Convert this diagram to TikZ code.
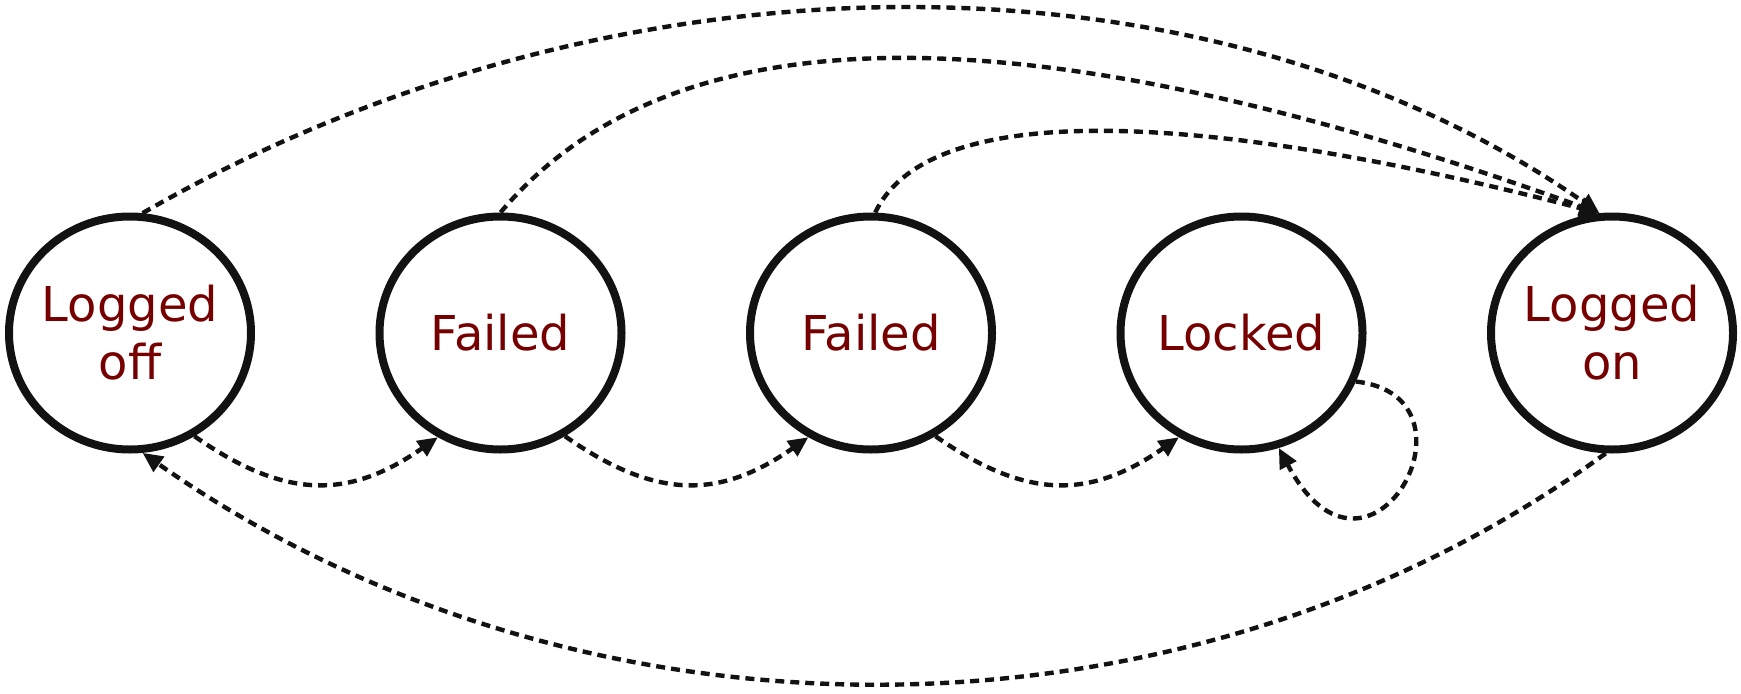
\documentclass[tikz,border=0pt]{standalone}
\usepackage{fontspec}
\setmainfont{DejaVu Sans}
\usepackage{xcolor}
\usetikzlibrary{shapes.geometric, arrows.meta, positioning}
\definecolor{statered}{RGB}{118,0,0}

\begin{document}
\begin{tikzpicture}[
  x=0.5pt, y=0.5pt,
  node distance=60.25pt,
  state/.style={ellipse, draw=black!93, line width=4pt, minimum width=121pt, minimum height=116.5pt, inner sep=-8pt, outer sep=2pt, align=center, text=statered, font=\fontsize{24}{29}\selectfont},
  trans/.style={-{Triangle[length=10pt,width=9pt]}, line width=2.2pt, dash pattern=on 4.5pt off 3pt, draw=black!93}
]
\useasboundingbox (0,0) rectangle (1741,693);

\node[state] (off) at (130,360) {Logged\\off};
\node[state, right=of off] (f1) {Failed};
\node[state, right=of f1] (f2) {Failed};
\node[state, right=of f2] (lock) {Locked};
\node[state, right=of lock] (on) {Logged\\on};

% lower chain
\draw[trans] (off.-58) to[out=-35, in=-145, looseness=1.15] (f1.-121);
\draw[trans] (f1.-58) to[out=-35, in=-145, looseness=1.15] (f2.-121);
\draw[trans] (f2.-58) to[out=-35, in=-145, looseness=1.15] (lock.-121);
\draw[trans] (lock.-23) .. controls +(135,-15) and +(90,-170) .. (lock.-72);
\draw[trans] (on.-93) .. controls +(-422,-307) and +(438,-307) .. (off.-84);

% upper arcs
\draw[trans] (off.84) .. controls +(473,273) and +(-390,273) .. (on.96);
\draw[trans] (f1.90) .. controls +(174,207) and +(-564,204) .. (on.96);
\draw[trans] (f2.88) .. controls +(56,117) and +(-386,100) .. (on.96);

\end{tikzpicture}
\end{document}
